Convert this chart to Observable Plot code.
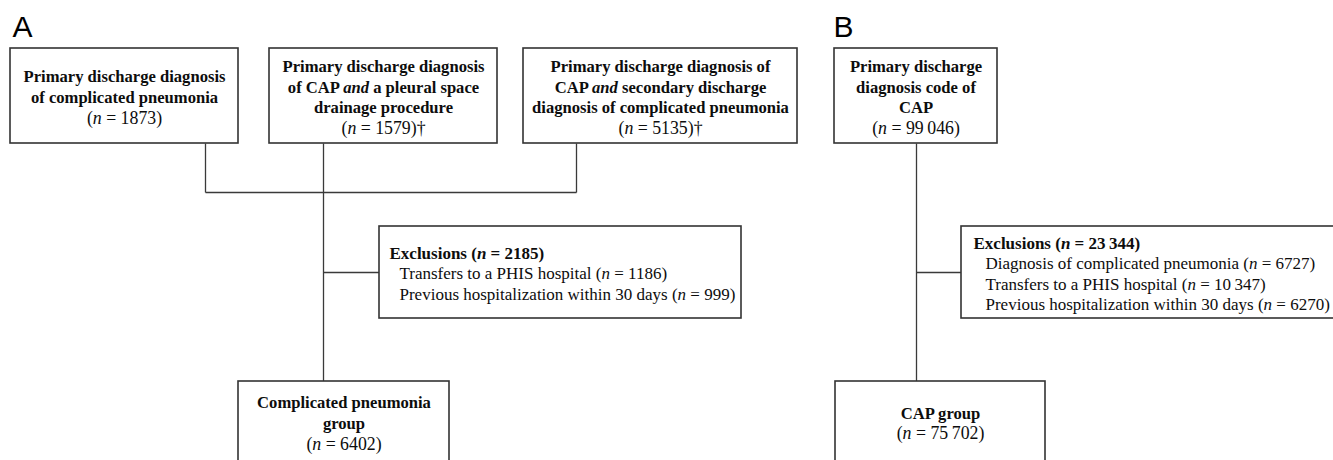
<!DOCTYPE html>
<html>
<head>
<meta charset="utf-8">
<script src="https://cdn.jsdelivr.net/npm/d3@7"></script>
<script src="https://cdn.jsdelivr.net/npm/@observablehq/plot@0.6"></script>
<style>
  html, body { margin: 0; padding: 0; background: #fff; overflow: hidden; }
</style>
</head>
<body>
<div id="chart"></div>
<script>
// ---------- data ----------
const panelLabels = ["A", "B"];

const boxIds = ["A1", "A2", "A3", "B1", "AX", "BX", "A5", "B3"];
const boxTitles = [
  ["Primary discharge diagnosis", "of complicated pneumonia"],
  ["Primary discharge diagnosis", "of CAP and a pleural space", "drainage procedure"],
  ["Primary discharge diagnosis of", "CAP and secondary discharge", "diagnosis of complicated pneumonia"],
  ["Primary discharge", "diagnosis code of", "CAP"],
  ["Exclusions"],
  ["Exclusions"],
  ["Complicated pneumonia", "group"],
  ["CAP group"]
];
const boxCounts = [1873, 1579, 5135, 99046, 2185, 23344, 6402, 75702];
const boxDagger = [false, true, true, false, false, false, false, false];

const exclusionLabelsA = ["Transfers to a PHIS hospital", "Previous hospitalization within 30 days"];
const exclusionCountsA = [1186, 999];
const exclusionLabelsB = ["Diagnosis of complicated pneumonia", "Transfers to a PHIS hospital", "Previous hospitalization within 30 days"];
const exclusionCountsB = [6727, 10347, 6270];

// ---------- layout (flowchart geometry) ----------
const panelPos = [[12, 36], [833, 36]];
const boxLayout = {
  A1: {x1: 10,  x2: 238,  y1: 48,  y2: 143},
  A2: {x1: 269, x2: 497,  y1: 48,  y2: 143},
  A3: {x1: 523, x2: 797,  y1: 48,  y2: 143},
  B1: {x1: 834, x2: 997,  y1: 48,  y2: 143},
  AX: {x1: 379, x2: 741,  y1: 226, y2: 318, head: 10, item: 20, size: 17},
  BX: {x1: 961, x2: 1345, y1: 226, y2: 318, head: 12, item: 24, size: 17},
  A5: {x1: 238, x2: 449,  y1: 381, y2: 462},
  B3: {x1: 835, x2: 1045, y1: 381, y2: 462}
};
const connectors = [
  [[205, 143], [205, 192]],
  [[576, 143], [576, 192]],
  [[205, 192], [576, 192]],
  [[323, 143], [323, 381]],
  [[323, 272], [379, 272]],
  [[916, 143], [916, 381]],
  [[916, 272], [961, 272]]
];

// ---------- build tables ----------
const fmt = n => n >= 10000 ? d3.format(",")(n).replace(",", "\u2009") : String(n);
const LH = 20.5;

const boxes = boxIds.map(id => ({id, ...boxLayout[id]}));
const lines = [];
boxIds.forEach((id, k) => {
  const b = boxLayout[id];
  const cy = (b.y1 + b.y2) / 2;
  let rows;
  if (id === "AX" || id === "BX") {
    const labs = id === "AX" ? exclusionLabelsA : exclusionLabelsB;
    const cnts = id === "AX" ? exclusionCountsA : exclusionCountsB;
    rows = [{text: `${boxTitles[k][0]} (n = ${fmt(boxCounts[k])})`, bold: true, x: b.x1 + b.head, anchor: "start", size: b.size}]
      .concat(labs.map((l, i) => ({text: `${l} (n = ${fmt(cnts[i])})`, bold: false, x: b.x1 + b.item, anchor: "start", size: b.size})));
  } else {
    const cx = (b.x1 + b.x2) / 2;
    rows = boxTitles[k].map(t => ({text: t, bold: true, x: cx, anchor: "middle", size: 16.6}))
      .concat([{text: `(n = ${fmt(boxCounts[k])})${boxDagger[k] ? "†" : ""}`, bold: false, x: cx, anchor: "middle", size: 17.8}]);
  }
  const n = rows.length;
  rows.forEach((r, i) => lines.push({...r, y: cy + (i - (n - 1) / 2) * LH + 1.5}));
});
const segs = connectors.map(([[x1, y1], [x2, y2]]) => ({x1, y1, x2, y2}));
const panels = panelLabels.map((l, i) => ({label: l, x: panelPos[i][0], y: panelPos[i][1]}));

const serif = "'Liberation Serif', 'Times New Roman', serif";

const textMark = (data, weight, anchor) => Plot.text(data, {
  x: "x", y: "y", text: "text", fontSize: "size",
  textAnchor: anchor, lineAnchor: "middle",
  fontFamily: serif, fontWeight: weight, fill: "#0d0d0d"
});

const chart = Plot.plot({
  width: 1333,
  height: 460,
  margin: 0,
  x: {domain: [0, 1333], range: [0, 1333], axis: null},
  y: {domain: [0, 460], range: [0, 460], axis: null},
  marks: [
    Plot.link(segs, {x1: "x1", y1: "y1", x2: "x2", y2: "y2", stroke: "#3a3a3a", strokeWidth: 1.3}),
    Plot.rect(boxes, {x1: "x1", x2: "x2", y1: "y1", y2: "y2", fill: "white", stroke: "#333", strokeWidth: 1.6}),
    textMark(lines.filter(d => d.bold && d.anchor === "middle"), "bold", "middle"),
    textMark(lines.filter(d => !d.bold && d.anchor === "middle"), "normal", "middle"),
    textMark(lines.filter(d => d.bold && d.anchor === "start"), "bold", "start"),
    textMark(lines.filter(d => !d.bold && d.anchor === "start"), "normal", "start"),
    Plot.text(panels, {x: "x", y: "y", text: "label", textAnchor: "start", lineAnchor: "bottom", fontFamily: "'Liberation Sans', Arial, sans-serif", fontSize: 30, fill: "#000"})
  ]
});

// italicise "n" in counts and "and" in titles
chart.querySelectorAll("text").forEach(t => {
  const targets = t.querySelectorAll("tspan").length ? Array.from(t.querySelectorAll("tspan")) : [t];
  targets.forEach(el => {
    const s = el.textContent;
    const parts = s.split(/(\bn\b(?= =)|\band\b)/);
    if (parts.length < 2) return;
    el.textContent = "";
    parts.forEach(p => {
      if (!p) return;
      const ts = document.createElementNS("http://www.w3.org/2000/svg", "tspan");
      ts.textContent = p;
      if (p === "n" || p === "and") ts.setAttribute("font-style", "italic");
      el.appendChild(ts);
    });
  });
});

document.getElementById("chart").appendChild(chart);
</script>
</body>
</html>
